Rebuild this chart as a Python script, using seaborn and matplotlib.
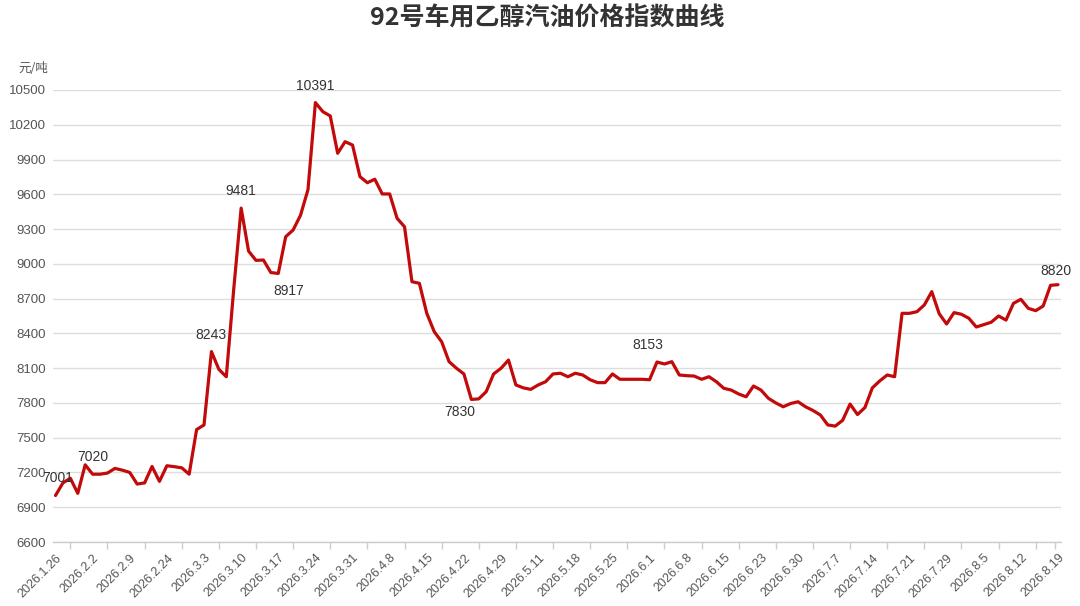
import pandas as pd
import seaborn as sns
import matplotlib.pyplot as plt

# data (one value per trading day)
price = [
    7001, 7110, 7150, 7020, 7266, 7185, 7185, 7195, 7235, 7220,
    7200, 7100, 7110, 7252, 7123, 7258, 7250, 7240, 7185, 7570,
    7610, 8243, 8090, 8026, 8780, 9481, 9110, 9030, 9033, 8925,
    8917, 9234, 9292, 9420, 9640, 10391, 10313, 10276, 9954, 10054,
    10025, 9752, 9700, 9730, 9603, 9603, 9393, 9320, 8846, 8832,
    8573, 8415, 8328, 8156, 8099, 8050, 7830, 7835, 7897, 8050,
    8099, 8170, 7955, 7930, 7917, 7955, 7983, 8050, 8056, 8026,
    8056, 8041, 8000, 7975, 7975, 8050, 8004, 8004, 8004, 8004,
    8000, 8153, 8136, 8156, 8041, 8035, 8032, 8004, 8026, 7983,
    7926, 7911, 7877, 7853, 7946, 7911, 7840, 7800, 7767, 7795,
    7810, 7767, 7735, 7696, 7610, 7600, 7650, 7790, 7700, 7760,
    7930, 7990, 8041, 8026, 8573, 8573, 8587, 8645, 8760, 8570,
    8481, 8579, 8565, 8530, 8455, 8475, 8496, 8550, 8515, 8659,
    8694, 8616, 8596, 8636, 8815, 8820,
]

# date labels, one every 5 points
date_labels = [
    '2026.1.26', '2026.2.2', '2026.2.9', '2026.2.24', '2026.3.3', '2026.3.10',
    '2026.3.17', '2026.3.24', '2026.3.31', '2026.4.8', '2026.4.15', '2026.4.22',
    '2026.4.29', '2026.5.11', '2026.5.18', '2026.5.25', '2026.6.1', '2026.6.8',
    '2026.6.15', '2026.6.23', '2026.6.30', '2026.7.7', '2026.7.14', '2026.7.21',
    '2026.7.29', '2026.8.5', '2026.8.12', '2026.8.19',
]

y_ticks = list(range(6600, 10501, 300))

# points that get a value label: (index, x offset px, y offset px)
marked = [(0, 2, 18), (3, 15, 36), (21, 0, 17), (25, 0, 17), (30, 10, -18),
          (35, 0, 17), (56, -12, -13), (81, -9, 17), (135, -2, 14)]

df = pd.DataFrame({'idx': range(len(price)), 'price': price})

sns.set_theme(style='whitegrid')
plt.rcParams['font.family'] = ['Liberation Sans', 'Noto Sans CJK SC', 'DejaVu Sans']

fig = plt.figure(figsize=(10.8, 6.06), dpi=100)
ax = fig.add_axes([0.0487, 0.1056, 0.9334, 0.7459])

sns.lineplot(data=df, x='idx', y='price', ax=ax, color='#c20a0a', linewidth=2.3)
ax.lines[0].set_solid_joinstyle('round')
ax.lines[0].set_solid_capstyle('round')

for i, dx, dy in marked:
    ax.annotate(str(price[i]), xy=(i, price[i]), xytext=(dx, dy),
                textcoords='offset pixels', ha='center', va='center',
                fontsize=10, color='#333333')

ax.set_xlim(-0.39, 135.36)
ax.set_ylim(6600, 10500)
ax.set_yticks(y_ticks)
ax.set_xticks(range(0, len(price), 5))
ax.set_xticklabels(date_labels, rotation=45, ha='right', va='top',
                   rotation_mode='anchor')
ax.set_xticks([2 + 5 * k for k in range(27)] + [134.6], minor=True)

ax.tick_params(axis='x', which='major', length=0, pad=7, labelsize=9, labelcolor='#555555')
ax.tick_params(axis='x', which='minor', length=5, width=1, color='#cccccc', direction='out',
               bottom=True)
ax.tick_params(axis='y', length=0, pad=5, labelsize=9.5, labelcolor='#555555')

ax.grid(axis='x', visible=False)
ax.grid(axis='y', color='#dddddd', linewidth=1)
for s in ['top', 'right', 'left']:
    ax.spines[s].set_visible(False)
ax.spines['bottom'].set_color('#cccccc')
ax.spines['bottom'].set_linewidth(1)

ax.set_xlabel('')
ax.set_ylabel('')

fig.text(33 / 1080, 1 - 68 / 606, '元/吨', ha='center', va='center', fontsize=9,
         color='#555555', family=['Noto Sans CJK SC', 'DejaVu Sans'])
fig.text(547 / 1080, 1 - 18 / 606, '92号车用乙醇汽油价格指数曲线', ha='center', va='center',
         fontsize=18, fontweight='bold', color='#333333',
         family=['Noto Sans CJK SC', 'DejaVu Sans'])

fig.savefig('out.png', dpi=100, facecolor='white')
